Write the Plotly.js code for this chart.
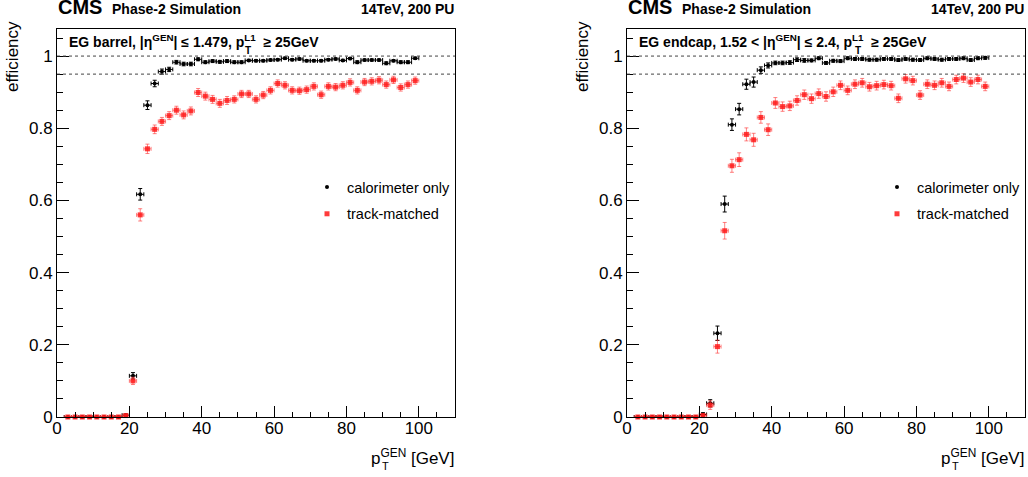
<!DOCTYPE html>
<html>
<head>
<meta charset="utf-8">
<script src="https://cdn.plot.ly/plotly-3.0.1.min.js"></script>
<style>html,body{margin:0;padding:0;background:#fff;}#chart{width:1028px;height:477px;}</style>
</head>
<body>
<div id="chart"></div>
<script>
// ---- data ----
const ptBins = [3,5,7,9,11,13,15,17,19,21,23,25,27,29,31,33,35,37,39,41,43,45,47,49,51,53,55,57,59,61,63,65,67,69,71,73,75,77,79,81,83,85,87,89,91,93,95,97,99];
const binHalfWidth = 1;

const barrelCalo = [0,0,0,0,0,0,0,0,0.005,0.114,0.617,0.864,0.924,0.957,0.963,0.983,0.978,0.978,0.991,0.983,0.986,0.984,0.986,0.983,0.983,0.988,0.987,0.987,0.989,0.990,0.994,0.990,0.992,0.987,0.987,0.987,0.990,0.992,0.988,0.993,0.983,0.989,0.989,0.989,0.980,0.987,0.983,0.983,0.994];
const barrelCaloErr = [0,0,0,0,0,0,0,0,0.003,0.009,0.016,0.012,0.009,0.007,0.006,0.005,0.005,0.005,0.004,0.004,0.004,0.004,0.004,0.004,0.004,0.003,0.003,0.003,0.003,0.003,0.003,0.003,0.003,0.003,0.003,0.003,0.003,0.003,0.003,0.003,0.004,0.003,0.003,0.003,0.004,0.003,0.004,0.004,0.003];
const barrelTrack = [0,0,0,0,0,0,0,0,0.004,0.100,0.560,0.743,0.797,0.819,0.835,0.850,0.837,0.848,0.899,0.889,0.880,0.869,0.877,0.880,0.895,0.895,0.880,0.892,0.905,0.924,0.919,0.905,0.904,0.907,0.916,0.893,0.916,0.914,0.919,0.927,0.905,0.928,0.930,0.933,0.921,0.934,0.913,0.921,0.932];
const barrelTrackErr = [0,0,0,0,0,0,0,0,0.003,0.010,0.017,0.013,0.012,0.011,0.011,0.011,0.011,0.011,0.011,0.011,0.011,0.011,0.011,0.010,0.010,0.010,0.010,0.010,0.010,0.010,0.010,0.010,0.010,0.010,0.010,0.010,0.010,0.010,0.010,0.010,0.010,0.010,0.010,0.010,0.010,0.010,0.010,0.010,0.010];

const endcapCalo = [0,0,0,0,0,0,0,0,0,0.007,0.038,0.232,0.590,0.810,0.853,0.922,0.928,0.961,0.974,0.981,0.981,0.982,0.990,0.988,0.988,0.994,0.981,0.987,0.986,0.994,0.992,0.992,0.990,0.990,0.992,0.992,0.989,0.992,0.990,0.989,0.994,0.992,0.990,0.992,0.992,0.994,0.989,0.994,0.995];
const endcapCaloErr = [0,0,0,0,0,0,0,0,0,0.005,0.010,0.020,0.022,0.016,0.016,0.014,0.014,0.009,0.007,0.005,0.005,0.005,0.005,0.005,0.004,0.004,0.004,0.004,0.004,0.004,0.004,0.004,0.004,0.004,0.004,0.004,0.004,0.004,0.004,0.004,0.004,0.004,0.004,0.004,0.004,0.004,0.004,0.004,0.004];
const endcapTrack = [0,0,0,0,0,0,0,0,0,0.004,0.033,0.195,0.516,0.696,0.713,0.783,0.768,0.830,0.796,0.870,0.860,0.862,0.877,0.893,0.882,0.896,0.888,0.901,0.919,0.905,0.922,0.926,0.915,0.918,0.921,0.918,0.883,0.937,0.932,0.892,0.922,0.919,0.926,0.916,0.935,0.939,0.928,0.935,0.916];
const endcapTrackErr = [0,0,0,0,0,0,0,0,0,0.004,0.012,0.018,0.023,0.018,0.019,0.018,0.018,0.016,0.016,0.015,0.013,0.013,0.013,0.013,0.013,0.013,0.013,0.013,0.012,0.012,0.012,0.012,0.012,0.012,0.012,0.012,0.012,0.012,0.012,0.012,0.012,0.012,0.012,0.012,0.012,0.012,0.012,0.012,0.012];

const refLines = [1.0, 0.95];
const xTicks = [0, 20, 40, 60, 80, 100];
const yTicks = [0, 0.2, 0.4, 0.6, 0.8, 1];
const seriesNames = ['calorimeter only', 'track-matched'];
const panelLabels = [
  'EG barrel, |η<sup>GEN</sup>| ≤ 1.479, p<sup>L1</sup>  ≥ 25GeV',
  'EG endcap, 1.52 < |η<sup>GEN</sup>| ≤ 2.4, p<sup>L1</sup>  ≥ 25GeV'
];

// ---- layout helpers ----
const W = 1028, H = 477;
const FONT = 'Liberation Sans, Arial, Helvetica, sans-serif';
const px = v => v / W;
const py = v => 1 - v / H;

const panels = [
  {xa:'x', ya:'y', left:57, right:455, legend:'legend', calo:barrelCalo, caloErr:barrelCaloErr, trk:barrelTrack, trkErr:barrelTrackErr, label:panelLabels[0], subT:191},
  {xa:'x2', ya:'y2', left:627, right:1025, legend:'legend2', calo:endcapCalo, caloErr:endcapCaloErr, trk:endcapTrack, trkErr:endcapTrackErr, label:panelLabels[1], subT:231}
];
const TOP = 29, BOTTOM = 417;

const traces = [];
const shapes = [];
const annotations = [];
const layout = {
  width: W, height: H,
  margin: {l:0, r:0, t:0, b:0},
  paper_bgcolor: 'white', plot_bgcolor: 'white',
  font: {family: FONT, color: 'black'},
  showlegend: true
};

const redMarker = 'rgba(255,25,25,0.85)';
const redErr = 'rgba(255,60,60,0.65)';

panels.forEach((p, i) => {
  const xname = i === 0 ? 'xaxis' : 'xaxis2';
  const yname = i === 0 ? 'yaxis' : 'yaxis2';
  layout[xname] = {
    domain: [px(p.left), px(p.right)], range: [0, 110], anchor: p.ya,
    tickvals: xTicks, ticks: 'inside', ticklen: 11, tickwidth: 1, tickcolor: 'black',
    minor: {dtick: 5, tick0: 0, ticks: 'inside', ticklen: 5, tickwidth: 1, tickcolor: 'black', showgrid: false},
    showline: true, linecolor: 'black', linewidth: 1, mirror: true,
    showgrid: false, zeroline: false, fixedrange: true, ticklabelstandoff: -4,
    tickfont: {size: 17, family: FONT, color: 'black'}
  };
  layout[yname] = {
    domain: [py(BOTTOM), py(TOP)], range: [0, 1.075], anchor: p.xa,
    tickvals: yTicks, ticktext: yTicks.map(String), ticks: 'inside', ticklen: 12, tickwidth: 1, tickcolor: 'black',
    minor: {dtick: 0.05, tick0: 0, ticks: 'inside', ticklen: 6, tickwidth: 1, tickcolor: 'black', showgrid: false},
    showline: true, linecolor: 'black', linewidth: 1, mirror: true,
    showgrid: false, zeroline: false, fixedrange: true,
    tickfont: {size: 17, family: FONT, color: 'black'}
  };

  traces.push({
    type: 'scatter', mode: 'markers', x: ptBins, y: p.calo, xaxis: p.xa, yaxis: p.ya,
    name: seriesNames[0], legend: p.legend, legendgroup: 'calo' + i, cliponaxis: false,
    marker: {color: 'black', size: 4, symbol: 'circle'},
    error_y: {type: 'data', array: p.caloErr, color: 'black', thickness: 1, width: 2},
    error_x: {type: 'constant', value: binHalfWidth, color: 'black', thickness: 1, width: 2}
  });
  traces.push({
    type: 'scatter', mode: 'markers', x: ptBins, y: p.trk, xaxis: p.xa, yaxis: p.ya,
    name: seriesNames[1], legend: p.legend, legendgroup: 'trk' + i, cliponaxis: false,
    marker: {color: redMarker, size: 5, symbol: 'square'},
    error_y: {type: 'data', array: p.trkErr, color: redErr, thickness: 1, width: 2},
    error_x: {type: 'constant', value: binHalfWidth, color: redErr, thickness: 1, width: 2}
  });

  refLines.forEach(v => shapes.push({
    type: 'line', xref: p.xa, yref: p.ya, x0: 0, x1: 110, y0: v, y1: v,
    line: {color: '#444', width: 1, dash: '3px,3px'}
  }));

  layout[p.legend] = {
    x: px(p.left + 250), y: py(171), xanchor: 'left', yanchor: 'top',
    bgcolor: 'rgba(0,0,0,0)', borderwidth: 0, tracegroupgap: 5,
    font: {size: 14.5, family: FONT, color: 'black'}
  };

  // header texts
  annotations.push({xref:'paper', yref:'paper', x: px(p.left), y: py(7.5), xanchor:'left', yanchor:'middle',
    text:'<b>CMS</b>', showarrow:false, borderpad:0, font:{size:20, family:FONT, color:'black'}});
  annotations.push({xref:'paper', yref:'paper', x: px(p.left + 54), y: py(8.5), xanchor:'left', yanchor:'middle',
    text:'<b>Phase-2 Simulation</b>', showarrow:false, borderpad:0, font:{size:14, family:FONT, color:'black'}});
  annotations.push({xref:'paper', yref:'paper', x: px(p.right), y: py(8.5), xanchor:'right', yanchor:'middle',
    text:'<b>14TeV, 200 PU</b>', showarrow:false, borderpad:0, font:{size:14, family:FONT, color:'black'}});
  // in-plot label
  annotations.push({xref:'paper', yref:'paper', x: px(p.left + 11), y: py(41), xanchor:'left', yanchor:'middle',
    text:'<b>' + p.label + '</b>', showarrow:false, borderpad:0, font:{size:14, family:FONT, color:'black'}});
  annotations.push({xref:'paper', yref:'paper', x: px(p.left + p.subT), y: py(51), xanchor:'center', yanchor:'middle',
    text:'<b>T</b>', showarrow:false, borderpad:0, font:{size:10, family:FONT, color:'black'}});
  // y title
  annotations.push({xref:'paper', yref:'paper', x: px(p.left - 44), y: py(57), xanchor:'center', yanchor:'middle',
    text:'efficiency', textangle:-90, showarrow:false, borderpad:0, font:{size:17, family:FONT, color:'black'}});
  // x title
  annotations.push({xref:'paper', yref:'paper', x: px(p.right), y: py(457), xanchor:'right', yanchor:'middle',
    text:'p<sup>GEN</sup> [GeV]', showarrow:false, borderpad:0, font:{size:17, family:FONT, color:'black'}});
  annotations.push({xref:'paper', yref:'paper', x: px(p.right - 70), y: py(466), xanchor:'center', yanchor:'middle',
    text:'T', showarrow:false, borderpad:0, font:{size:11, family:FONT, color:'black'}});
});

layout.shapes = shapes;
layout.annotations = annotations;

Plotly.newPlot('chart', traces, layout, {staticPlot: true, displayModeBar: false});
</script>
</body>
</html>
